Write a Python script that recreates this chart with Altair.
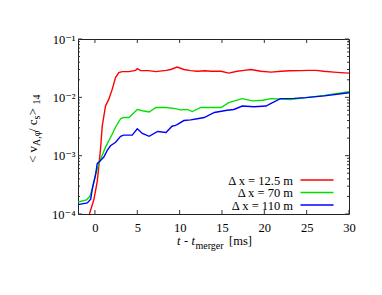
import altair as alt
import pandas as pd

# ---- data ----
t_red = [-1.2, -0.65, -0.13, 0.27, 0.66, 0.86, 1.25, 1.64, 2.04, 2.43,
         2.82, 3.22, 4.0, 4.8, 5.0, 5.4, 6.3, 7.2, 8.4, 8.95,
         9.7, 10.5, 11.3, 12.1, 13.0, 13.7, 14.9, 15.8, 16.8, 17.6,
         18.4, 19.6, 20.8, 22.0, 23.0, 24.3, 25.2, 26.1, 27.0, 28.2,
         29.0, 30.0]
v_red = [6e-5, 1.0e-4, 1.75e-4, 3.6e-4, 1.3e-3, 3.2e-3, 7.1e-3, 9.3e-3, 0.0137, 0.0218,
         0.0265, 0.0276, 0.0276, 0.029, 0.031, 0.0287, 0.0287, 0.0276, 0.029, 0.030,
         0.033, 0.030, 0.0287, 0.028, 0.0285, 0.028, 0.028, 0.026, 0.028, 0.029,
         0.030, 0.028, 0.027, 0.028, 0.0285, 0.0287, 0.029, 0.029, 0.028, 0.027,
         0.0265, 0.026]

t_green = [-2.0, -1.0, -0.6, -0.3, 0.07, 0.46, 0.86, 1.25, 1.64, 2.05,
           2.44, 3.03, 3.4, 4.0, 4.4, 5.0, 5.6, 6.4, 7.2, 8.4,
           9.5, 10.1, 10.9, 11.5, 12.5, 13.5, 14.9, 15.8, 17.4, 18.6,
           19.8, 20.8, 23.1, 24.9, 27.1, 30.0]
v_green = [1.6e-4, 1.75e-4, 2.0e-4, 2.75e-4, 4.7e-4, 7.3e-4, 1.02e-3, 1.4e-3, 1.8e-3, 2.35e-3,
           3.1e-3, 4.3e-3, 4.5e-3, 4.5e-3, 5.1e-3, 6.2e-3, 5.9e-3, 5.6e-3, 6.7e-3, 6.7e-3,
           6.4e-3, 6.1e-3, 6.2e-3, 5.7e-3, 6.7e-3, 6.7e-3, 6.7e-3, 8.1e-3, 9.5e-3, 8.7e-3,
           8.9e-3, 9.5e-3, 9.2e-3, 9.9e-3, 0.0108, 0.0125]

t_blue = [-2.0, -0.9, -0.5, -0.3, 0.07, 0.27, 0.66, 1.05, 1.45, 1.84,
          2.44, 3.03, 3.4, 4.4, 5.0, 5.6, 6.4, 7.4, 8.4, 9.1,
          9.5, 9.7, 10.5, 11.3, 12.1, 12.9, 14.1, 15.6, 16.4, 17.4,
          18.8, 20.2, 20.8, 21.9, 23.5, 24.9, 27.1, 30.0]
v_blue = [1.45e-4, 1.55e-4, 1.8e-4, 2.75e-4, 4.7e-4, 7.3e-4, 8.3e-4, 9.5e-4, 1.23e-3, 1.48e-3,
          1.7e-3, 2.15e-3, 2.25e-3, 2.25e-3, 2.9e-3, 2.4e-3, 2.15e-3, 2.6e-3, 2.5e-3, 3.2e-3,
          3.3e-3, 3.4e-3, 4.0e-3, 4.1e-3, 4.3e-3, 4.5e-3, 5.5e-3, 6.0e-3, 6.2e-3, 7.1e-3,
          6.9e-3, 7.1e-3, 7.9e-3, 9.5e-3, 9.6e-3, 9.9e-3, 0.0106, 0.012]

series_names = ["Δ x = 12.5 m", "Δ x = 70 m", "Δ x = 110 m"]
series_colors = ["#ff0000", "#00e000", "#0000ff"]

x_ticks = [0, 5, 10, 15, 20, 25, 30]
y_major = [1e-4, 1e-3, 1e-2, 1e-1]
y_minor = [k * 10.0 ** e for e in (-4, -3, -2) for k in range(2, 10)]

# ---- build tables ----
df = pd.concat([
    pd.DataFrame({"t": t_red, "v": v_red, "series": series_names[0]}),
    pd.DataFrame({"t": t_green, "v": v_green, "series": series_names[1]}),
    pd.DataFrame({"t": t_blue, "v": v_blue, "series": series_names[2]}),
])

W, H = 271, 175
FONT = "'Liberation Serif', 'DejaVu Serif', serif"

xscale = alt.Scale(domain=[-2, 30], nice=False, zero=False)
yscale = alt.Scale(type="log", domain=[1e-4, 1e-1], nice=False)

label_expr = ("datum.value > 0.05 ? '10⁻¹' : datum.value > 0.005 ? '10⁻²' : "
              "datum.value > 0.0005 ? '10⁻³' : '10⁻⁴'")

lines = alt.Chart(df).mark_line(strokeWidth=1.4, clip=True).encode(
    x=alt.X("t:Q", scale=xscale, title=None,
            axis=alt.Axis(values=x_ticks, ticks=False, domain=False, grid=False,
                          labelFont=FONT, labelFontSize=12.5, labelColor="black",
                          labelPadding=7, labelFlush=False)),
    y=alt.Y("v:Q", scale=yscale, title=None,
            axis=alt.Axis(values=y_major, labelExpr=label_expr, ticks=False,
                          domain=False, grid=False, labelFont=FONT, labelFontSize=12.5,
                          labelColor="black", labelPadding=3, labelFlush=False)),
    color=alt.Color("series:N", scale=alt.Scale(domain=series_names, range=series_colors),
                    legend=None),
)

xt = pd.DataFrame({"t": x_ticks})
ymaj = pd.DataFrame({"v": y_major})
ymin = pd.DataFrame({"v": y_minor})
tick_color = "#333333"

layers = [lines]
# x ticks bottom and top (inward)
layers.append(alt.Chart(xt).mark_rule(color=tick_color, strokeWidth=1).encode(
    x=alt.X("t:Q", scale=xscale), y=alt.value(H), y2=alt.value(H - 4)))
layers.append(alt.Chart(xt).mark_rule(color=tick_color, strokeWidth=1).encode(
    x=alt.X("t:Q", scale=xscale), y=alt.value(0), y2=alt.value(4)))
# y ticks left and right (inward)
for d, ln in ((ymaj, 4), (ymin, 2)):
    layers.append(alt.Chart(d).mark_rule(color=tick_color, strokeWidth=1).encode(
        y=alt.Y("v:Q", scale=yscale), x=alt.value(0), x2=alt.value(ln)))
    layers.append(alt.Chart(d).mark_rule(color=tick_color, strokeWidth=1).encode(
        y=alt.Y("v:Q", scale=yscale), x=alt.value(W), x2=alt.value(W - ln)))

# legend (inside, bottom right)
for i, (name, col) in enumerate(zip(series_names, series_colors)):
    yy = 141 + i * 12.5
    layers.append(alt.Chart(pd.DataFrame({"s": [name]})).mark_text(
        align="right", baseline="middle", font=FONT, fontSize=12.5, color="black").encode(
        text="s:N", x=alt.value(215), y=alt.value(yy + 0.5)))
    layers.append(alt.Chart(pd.DataFrame({"s": [name]})).mark_rule(
        color=col, strokeWidth=1.4).encode(
        x=alt.value(222.5), x2=alt.value(255.5), y=alt.value(yy)))

# x-axis title pieces: t - t_merger [ms]
x_title = [("t", 99, 205.5, 12.5, "italic"), ("-", 106, 205.5, 12.5, "normal"),
           ("t", 113.5, 205.5, 12.5, "italic"), ("merger", 117.5, 209.5, 10, "normal"),
           ("[ms]", 151, 205.5, 12.5, "normal")]
for s, xx, yy, fs, st in x_title:
    layers.append(alt.Chart(pd.DataFrame({"s": [s]})).mark_text(
        align="left", baseline="alphabetic", font=FONT, fontSize=fs, fontStyle=st,
        color="black").encode(text="s:N", x=alt.value(xx), y=alt.value(yy)))

# y-axis title pieces: < v_{A,phi} / c_s >_{14} (rotated)
y_title = [("< v", -41, 124, 13), ("A,φ", -38, 107, 10), ("/ c", -41, 93, 13),
           ("s", -38, 80.5, 10), (" >", -41, 76.5, 13), ("14", -38, 65.5, 10)]
for s, xx, yy, fs in y_title:
    layers.append(alt.Chart(pd.DataFrame({"s": [s]})).mark_text(
        align="left", baseline="alphabetic", font=FONT, fontSize=fs, angle=270,
        color="black").encode(text="s:N", x=alt.value(xx), y=alt.value(yy)))

chart = alt.layer(*layers).properties(
    width=W, height=H,
    padding={"left": 70, "top": 31, "right": 25, "bottom": 73},
    autosize=alt.AutoSizeParams(type="none"),
).configure_view(stroke="#222222", strokeWidth=1)

chart.save("out.html", embed_options={"renderer": "svg", "actions": False})
